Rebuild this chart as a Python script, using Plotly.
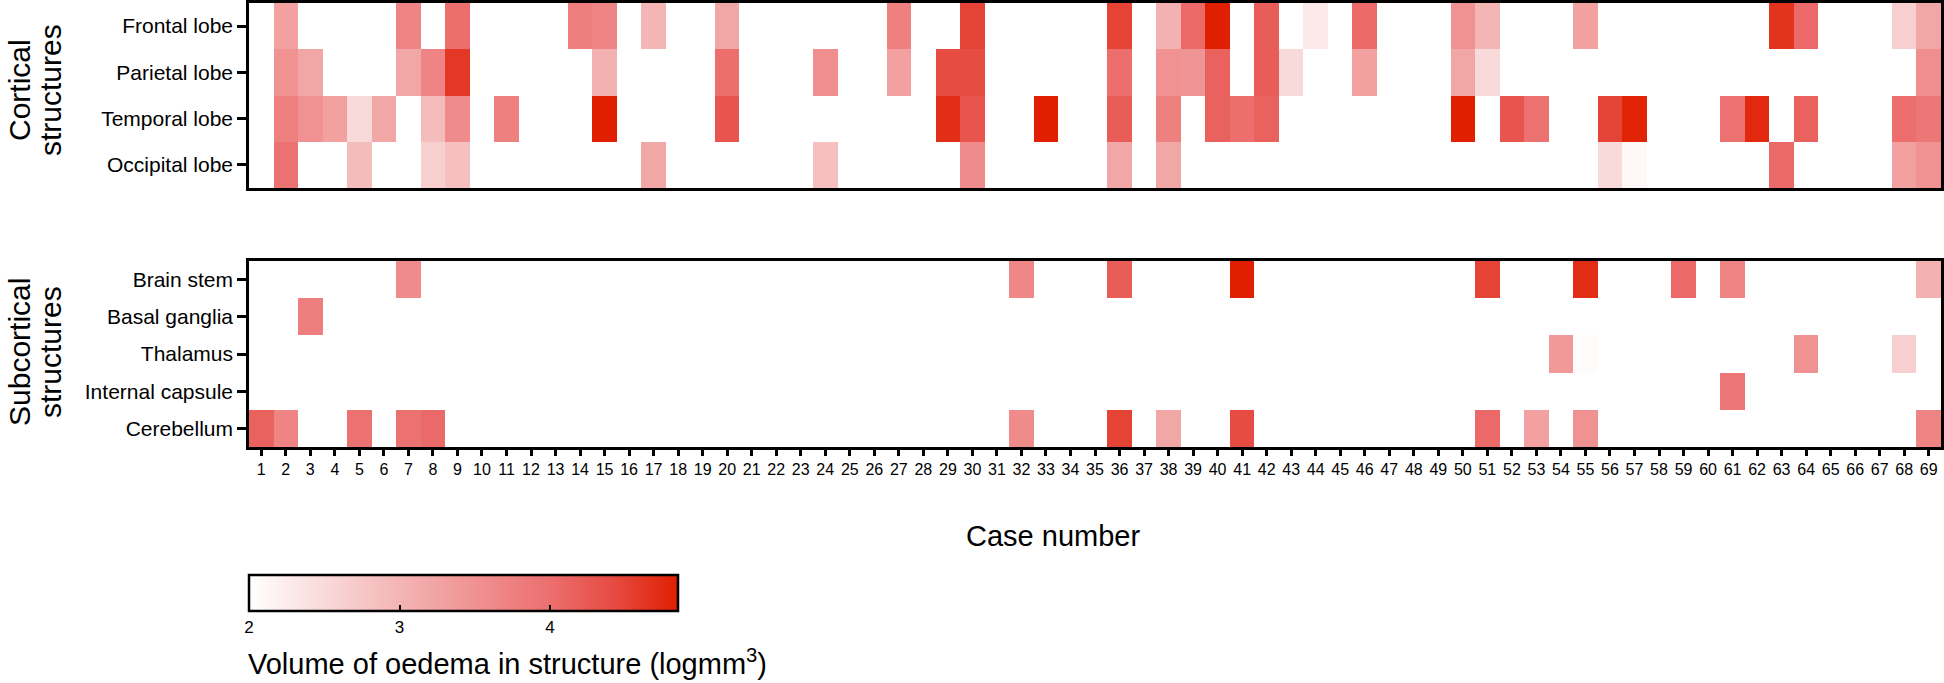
import plotly.graph_objects as go

# ---------------- data ----------------
cases = list(range(1, 70))

cortical_rows = ["Frontal lobe", "Parietal lobe", "Temporal lobe", "Occipital lobe"]
subcortical_rows = ["Brain stem", "Basal ganglia", "Thalamus", "Internal capsule", "Cerebellum"]

# log10 volume of oedema (logmm^3), keyed by case number; missing = no oedema
frontal = {2: 3.3, 7: 3.7, 9: 4.0, 14: 3.8, 15: 3.7, 17: 3.0, 20: 3.2, 27: 3.75, 30: 4.5,
           36: 4.5, 38: 3.05, 39: 4.05, 40: 4.85, 42: 4.2, 44: 2.3, 46: 4.05, 50: 3.5,
           51: 3.0, 55: 3.3, 63: 4.65, 64: 4.05, 68: 2.65, 69: 3.2}
parietal = {2: 3.5, 3: 3.2, 7: 3.2, 8: 3.7, 9: 4.6, 15: 3.05, 20: 4.0, 24: 3.55, 27: 3.3,
            29: 4.4, 30: 4.4, 36: 4.0, 38: 3.5, 39: 3.45, 40: 4.15, 42: 4.2, 43: 2.5,
            46: 3.3, 50: 3.2, 51: 2.5, 69: 3.55}
temporal = {2: 3.75, 3: 3.5, 4: 3.3, 5: 2.5, 6: 3.2, 8: 2.9, 9: 3.6, 11: 3.75, 15: 4.85,
            20: 4.3, 29: 4.7, 30: 4.3, 33: 4.85, 36: 4.2, 38: 3.75, 40: 4.15, 41: 4.0,
            42: 4.15, 50: 4.85, 52: 4.3, 53: 3.95, 56: 4.5, 57: 4.8, 61: 3.95, 62: 4.75,
            64: 4.15, 68: 4.0, 69: 3.9}
occipital = {2: 3.95, 5: 2.9, 8: 2.65, 9: 2.85, 17: 3.2, 24: 2.85, 30: 3.6, 36: 3.2,
             38: 3.2, 56: 2.5, 57: 2.1, 63: 4.05, 68: 3.3, 69: 3.5}

brain_stem = {7: 3.6, 32: 3.65, 36: 4.2, 41: 4.85, 51: 4.5, 55: 4.7, 59: 4.05, 61: 3.7, 69: 3.05}
basal_ganglia = {3: 3.8}
thalamus = {54: 3.4, 55: 2.05, 64: 3.5, 68: 2.65}
internal_capsule = {61: 3.9}
cerebellum = {1: 4.15, 2: 3.7, 5: 3.95, 7: 3.95, 8: 4.05, 32: 3.6, 36: 4.5, 38: 3.2,
              41: 4.4, 51: 4.05, 53: 3.3, 55: 3.5, 69: 3.7}

cbar_ticks = [2, 3, 4]
zmin, zmax = 2.0, 4.85

# ---------------- build ----------------
def row(d):
    return [d.get(c) for c in cases]

z_top = [row(frontal), row(parietal), row(temporal), row(occipital)]
z_bot = [row(brain_stem), row(basal_ganglia), row(thalamus), row(internal_capsule), row(cerebellum)]

cscale = [[0.0, "#FFFFFF"], [0.35, "#F4B5B5"], [0.70, "#EC6F6F"], [0.86, "#E6483E"], [1.0, "#E01E00"]]

FONT = "Arial, Liberation Sans, sans-serif"
W, H = 1944, 683
L, R, T, B = 249, 3, 3, 236
plot_w = W - L - R
plot_h = H - T - B


def px_x(p):
    return (p - L) / plot_w


def px_y(p):
    return (H - B - p) / plot_h


fig = go.Figure()
fig.add_trace(go.Heatmap(
    x=cases, y=cortical_rows, z=z_top, zmin=zmin, zmax=zmax, colorscale=cscale,
    xaxis="x", yaxis="y", showscale=False, hoverongaps=False))
fig.add_trace(go.Heatmap(
    x=cases, y=subcortical_rows, z=z_bot, zmin=zmin, zmax=zmax, colorscale=cscale,
    xaxis="x2", yaxis="y2", showscale=True, hoverongaps=False,
    colorbar=dict(
        orientation="h", xref="paper", yref="paper",
        x=px_x(249), xanchor="left", y=px_y(575), yanchor="top",
        len=429, lenmode="pixels", thickness=36, xpad=0, ypad=0,
        outlinewidth=2.5, outlinecolor="black",
        tickvals=cbar_ticks, ticks="inside", ticklen=7, tickwidth=2, tickcolor="black",
        tickfont=dict(size=17, family=FONT, color="black"),
    )))

top_lo = px_y(188)
bot_hi = px_y(261)

axis_common = dict(showline=True, linecolor="black", linewidth=2.5, mirror=True,
                   showgrid=False, zeroline=False)

fig.update_layout(
    width=W, height=H,
    margin=dict(l=L, r=R, t=T, b=B, autoexpand=False),
    paper_bgcolor="white", plot_bgcolor="white",
    font=dict(family=FONT, color="black"),
    xaxis=dict(domain=[0, 1], anchor="y", range=[0.5, 69.5], showticklabels=False,
               ticks="", **axis_common),
    yaxis=dict(domain=[top_lo, 1], anchor="x", autorange="reversed", ticks="outside",
               ticklen=9, tickwidth=2.5, tickcolor="black",
               tickfont=dict(size=21, family=FONT), **axis_common),
    xaxis2=dict(domain=[0, 1], anchor="y2", range=[0.5, 69.5], tickmode="array",
                tickvals=cases, ticktext=[str(c) for c in cases], ticks="outside",
                ticklen=6, tickwidth=2.5, tickcolor="black", tickangle=0,
                ticklabeloverflow="allow",
                tickfont=dict(size=16, family=FONT), **axis_common),
    yaxis2=dict(domain=[0, bot_hi], anchor="x2", autorange="reversed", ticks="outside",
                ticklen=9, tickwidth=2.5, tickcolor="black",
                tickfont=dict(size=21, family=FONT), **axis_common),
)

group_labels = [("Cortical", 19, 90), ("structures", 50, 90),
                ("Subcortical", 19, 352), ("structures", 50, 352)]
for txt, gx, gy in group_labels:
    fig.add_annotation(text=txt, xref="paper", yref="paper",
                       x=px_x(gx), y=px_y(gy), textangle=-90, showarrow=False,
                       font=dict(size=30, family=FONT), xanchor="center", yanchor="middle")

fig.add_annotation(text="Case number", xref="paper", yref="paper",
                   x=px_x(1053), y=px_y(536), showarrow=False,
                   font=dict(size=29, family=FONT), xanchor="center", yanchor="middle")
fig.add_annotation(text="Volume of oedema in structure (logmm<sup>3</sup>)",
                   xref="paper", yref="paper",
                   x=px_x(246), y=px_y(682), showarrow=False,
                   font=dict(size=29, family=FONT), xanchor="left", yanchor="bottom")

fig.write_html("out.html", config={"displayModeBar": False},
               post_script="document.body.style.margin='0';document.body.style.overflow='hidden';")
